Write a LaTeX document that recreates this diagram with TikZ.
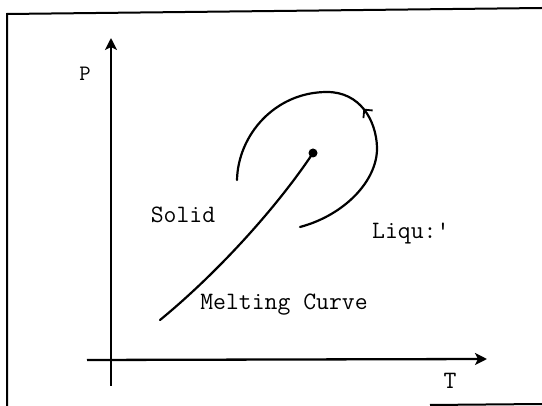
\documentclass[tikz,border=0pt]{standalone}
\usepackage{fontspec}
\usepackage{tikz}
\usetikzlibrary{arrows.meta,decorations.markings}

\tikzset{
  curve/.style={line width=2.2pt, line cap=round},
  axis/.style={line width=2.3pt, -{Stealth[length=12pt,width=12pt,inset=3pt]}},
  lbl/.style={font=\ttfamily\fontsize{25}{28}\selectfont, inner sep=0pt},
  midarrow/.style={postaction={decorate},
    decoration={markings, mark=at position #1 with {\arrow{Straight Barb[length=6pt,width=12pt,line width=1.8pt]}}}},
}

\begin{document}
\begin{tikzpicture}[x=1pt,y=-1pt]
  \useasboundingbox (0,0) rectangle (542,406);
  % frame, as scanned
  \draw[line width=2pt] (7,406) -- (7,14) -- (542,8);
  \draw[line width=2pt] (430,405) -- (542,404);
  % axes
  \coordinate (ybot) at (111,386);
  \coordinate (ytop) at (111,38);
  \coordinate (xleft) at (87,360);
  \coordinate (xright) at (487,359);
  \draw[axis] (ybot) -- (ytop);
  \draw[axis] (xleft) -- (xright);
  \node[lbl, font=\ttfamily\fontsize{22}{26}\selectfont] (lblP) at (85,74) {P};
  \node[lbl] (lblT) at (450,381) {T};
  % melting curve up to the critical point
  \coordinate (melt0) at (160,320);
  \node[circle, fill, inner sep=0pt, minimum size=9pt] (crit) at (313,153) {};
  \draw[curve] (melt0) .. controls (215,275) and (275,210) .. (crit.center);
  % path round the critical point
  \coordinate (arcA) at (300,227);
  \coordinate (arcR) at (377,147);
  \coordinate (arcT) at (327,92);
  \coordinate (arcB) at (237,180);
  \draw[curve, midarrow=0.47] (arcA) .. controls (345,215) and (378,180) .. (arcR)
    .. controls (376,120) and (360,92) .. (arcT)
    .. controls (275,92) and (238,135) .. (arcB);
  % phases
  \node[lbl] (solid) at (183,215) {Solid};
  \node[lbl, anchor=west] (liquid) at (372,234) {Liqu:'};
  \node[lbl] (melt) at (284,305) {Melting Curve};
\end{tikzpicture}
\end{document}
